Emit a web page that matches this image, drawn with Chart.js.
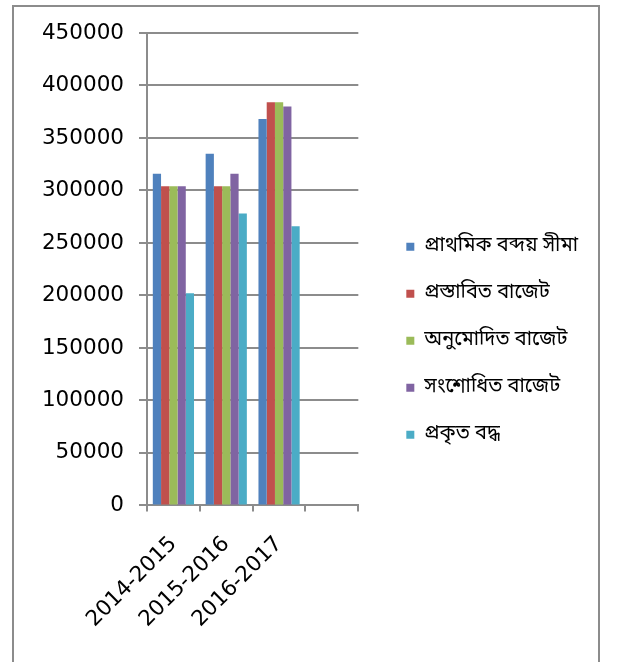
<!DOCTYPE html>
<html>
<head>
<meta charset="utf-8">
<script src="https://cdn.jsdelivr.net/npm/chart.js@4"></script>
<style>
  html, body { margin: 0; padding: 0; background: #fff; }
  body { width: 619px; height: 662px; position: relative; overflow: hidden; }
  #frame {
    position: absolute; left: 12px; top: 5px; width: 588px; height: 700px;
    border: 2px solid #8c8c8c; box-sizing: border-box;
  }
  #wrap { position: absolute; left: 0; top: 0; width: 619px; height: 662px; }
</style>
</head>
<body>
<div id="frame"></div>
<div id="wrap"><canvas id="chart" width="619" height="662"></canvas></div>
<script>
// Fiscal years on the x axis (the last slot is left empty)
const categories = ['2014-2015', '2015-2016', '2016-2017', ''];

// Series names
const seriesNames = [
  'প্রাথমিক বব্দয় সীমা',
  'প্রস্তাবিত বাজেট',
  'অনুমোদিত বাজেট',
  'সংশোধিত বাজেট',
  'প্রকৃত বদ্ধ'
];

// Series values per fiscal year
const initialLimit = [316000, 335000, 368000, null];
const proposedBudget = [304000, 304000, 384000, null];
const approvedBudget = [304000, 304000, 384000, null];
const revisedBudget = [304000, 316000, 380000, null];
const actualSpending = [202000, 278000, 266000, null];

const seriesValues = [initialLimit, proposedBudget, approvedBudget, revisedBudget, actualSpending];
const seriesColors = ['#4F81BD', '#C0504D', '#9BBB59', '#8064A2', '#4BACC6'];

// Y axis ticks
const yTicks = [0, 50000, 100000, 150000, 200000, 250000, 300000, 350000, 400000, 450000];

const axisColor = '#8c8c8c';
const numFont = { family: "'DejaVu Sans', sans-serif", size: 21.5 };
const bnFont = { family: "'Noto Sans Bengali', 'Lohit Bengali', 'Noto Serif Bengali', 'Noto Sans', sans-serif", size: 20 };

new Chart(document.getElementById('chart'), {
  type: 'bar',
  data: {
    labels: categories,
    datasets: seriesNames.map((name, i) => ({
      label: name,
      data: seriesValues[i],
      backgroundColor: seriesColors[i],
      borderWidth: 0,
      categoryPercentage: 0.78,
      barPercentage: 1.0
    }))
  },
  options: {
    responsive: false,
    animation: false,
    devicePixelRatio: 1,
    layout: { padding: { left: 41, top: 33, right: 31, bottom: 9.5 } },
    plugins: {
      tooltip: { enabled: false },
      legend: {
        position: 'right',
        align: 'center',
        fullSize: false,
        maxWidth: 400,
        // blank title used only as vertical offset for the key
        title: { display: true, text: ' ', font: { size: 10 }, padding: { top: 131, bottom: 0 } },
        labels: {
          font: bnFont,
          color: '#000',
          boxWidth: 8,
          boxHeight: 8,
          padding: 27
        }
      }
    },
    scales: {
      x: {
        grid: {
          drawOnChartArea: false,
          drawTicks: true,
          tickLength: 6,
          color: axisColor,
          lineWidth: 2
        },
        border: { color: axisColor, width: 2 },
        ticks: {
          font: numFont,
          color: '#000',
          maxRotation: 45,
          minRotation: 45,
          padding: 20
        }
      },
      y: {
        min: 0,
        max: 450000,
        afterBuildTicks: (scale) => { scale.ticks = yTicks.map(v => ({ value: v })); },
        afterFit: (scale) => { scale.width = 106; },
        grid: {
          color: axisColor,
          lineWidth: 2,
          tickLength: 8
        },
        border: { color: axisColor, width: 2 },
        ticks: {
          font: numFont,
          color: '#000',
          padding: 15,
          callback: (v) => String(v)
        }
      },
      // empty spacer axis that keeps a gap between the plot and the legend
      gap: {
        position: 'right',
        display: true,
        grid: { display: false },
        border: { display: false },
        ticks: { display: false },
        afterFit: (scale) => { scale.width = 21; }
      }
    }
  }
});
</script>
</body>
</html>
